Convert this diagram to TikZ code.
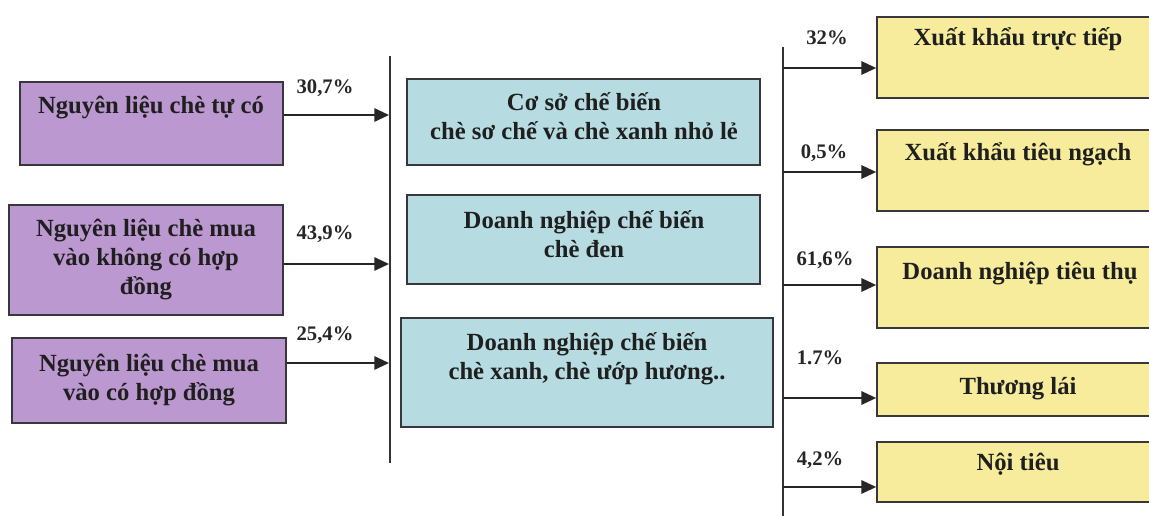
\documentclass[tikz,border=0pt]{standalone}
\usepackage{fontspec}
\setmainfont{Liberation Serif}
\usetikzlibrary{arrows.meta,fit}
\definecolor{purplebox}{RGB}{188,152,208}
\definecolor{tealbox}{RGB}{182,220,226}
\definecolor{yellowbox}{RGB}{246,236,156}
\definecolor{boxline}{RGB}{55,55,60}
\begin{document}
\begin{tikzpicture}[x=0.75pt,y=-0.75pt,
  box/.style={draw=boxline,line width=1.3pt,inner sep=0pt},
  lbox/.style={box,fill=purplebox},
  mbox/.style={box,fill=tealbox},
  rbox/.style={box,fill=yellowbox},
  boxtext/.style={anchor=north,align=center,inner sep=0pt,execute at begin node={\rule{0pt}{19pt}},font=\fontsize{18.5}{21.75}\selectfont\bfseries,text=black!88},
  pct/.style={inner sep=0pt,font=\fontsize{15.5}{17}\selectfont\bfseries,text=black!85},
  bus/.style={line width=1.4pt,draw=black!80},
  arr/.style={line width=1.4pt,draw=black!85,-{Triangle[length=11pt,width=10pt]}}]
\useasboundingbox (0,0) rectangle (1149,516);
\clip (0,0) rectangle (1149,516);
\fill[white] (0,0) rectangle (1149,516);
% left boxes
\node[lbox,fit={(20,82) (283,165)}] (L1) {};
\node[lbox,fit={(9,205) (283,315)}] (L2) {};
\node[lbox,fit={(12,338) (286,423)}] (L3) {};
\node[boxtext] (L1t) at (151,88) {Nguyên liệu chè tự có};
\node[boxtext] (L2t) at (146,219) {Nguyên liệu chè mua\\vào không có hợp\\đồng};
\node[boxtext] (L3t) at (149,354) {Nguyên liệu chè mua\\vào có hợp đồng};
% middle boxes
\node[mbox,fit={(407,79) (760,165)}] (M1) {};
\node[mbox,fit={(407,195) (760,284)}] (M2) {};
\node[mbox,fit={(401,318) (773,427)}] (M3) {};
\node[boxtext] (M1t) at (584,92) {Cơ sở chế biến\\chè sơ chế và chè xanh nhỏ lẻ};
\node[boxtext] (M2t) at (584,210) {Doanh nghiệp chế biến\\chè đen};
\node[boxtext] (M3t) at (587,332) {Doanh nghiệp chế biến\\chè xanh, chè ướp hương..};
% right boxes
\node[rbox,fit={(877,17) (1165,98)}] (R1) {};
\node[rbox,fit={(877,130) (1165,211)}] (R2) {};
\node[rbox,fit={(877,247) (1165,328)}] (R3) {};
\node[rbox,fit={(877,363) (1165,416)}] (R4) {};
\node[rbox,fit={(877,442) (1165,502)}] (R5) {};
\node[boxtext] (R1t) at (1018,20) {Xuất khẩu trực tiếp};
\node[boxtext] (R2t) at (1018,135) {Xuất khẩu tiêu ngạch};
\node[boxtext] (R3t) at (1020,254) {Doanh nghiệp tiêu thụ};
\node[boxtext] (R4t) at (1018,369) {Thương lái};
\node[boxtext] (R5t) at (1018,445) {Nội tiêu};
% bus lines
\coordinate (LBtop) at (390,56);
\coordinate (LBbot) at (390,463);
\coordinate (RBtop) at (783,47);
\coordinate (RBbot) at (783,520);
\draw[bus] (LBtop) -- (LBbot);
\draw[bus] (RBtop) -- (RBbot);
% input arrows
\coordinate (in1) at (389,115);
\coordinate (in2) at (389,264);
\coordinate (in3) at (389,363);
\draw[arr] (L1.east |- in1) -- (in1);
\draw[arr] (L2.east |- in2) -- (in2);
\draw[arr] (L3.east |- in3) -- (in3);
% output arrows
\coordinate (out1) at (783,68);
\coordinate (out2) at (783,172);
\coordinate (out3) at (783,285);
\coordinate (out4) at (783,398);
\coordinate (out5) at (783,487);
\draw[arr] (out1) -- (R1.west |- out1);
\draw[arr] (out2) -- (R2.west |- out2);
\draw[arr] (out3) -- (R3.west |- out3);
\draw[arr] (out4) -- (R4.west |- out4);
\draw[arr] (out5) -- (R5.west |- out5);
% percentages
\node[pct] (p1) at (325,88) {30,7\%};
\node[pct] (p2) at (325,234) {43,9\%};
\node[pct] (p3) at (325,335) {25,4\%};
\node[pct] (p4) at (827,38) {32\%};
\node[pct] (p5) at (824,153) {0,5\%};
\node[pct] (p6) at (825,260) {61,6\%};
\node[pct] (p7) at (820,358) {1.7\%};
\node[pct] (p8) at (820,460) {4,2\%};
\end{tikzpicture}
\end{document}
